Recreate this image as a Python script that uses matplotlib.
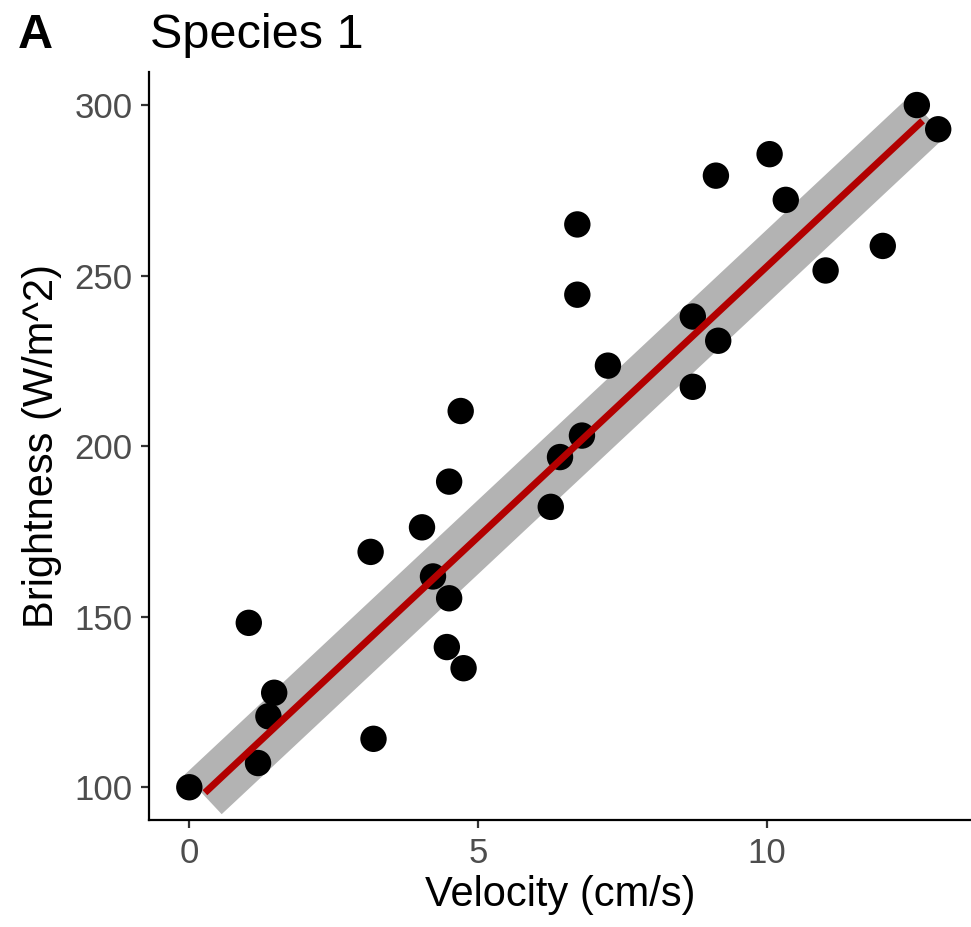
import matplotlib
matplotlib.use("Agg")
import matplotlib.pyplot as plt

plt.rcParams['font.family'] = ['Liberation Sans', 'DejaVu Sans']

# ---- data ----
velocity = [0.00, 1.03, 1.19, 1.37, 1.47, 3.14, 3.19, 4.03, 4.22, 4.50,
            4.50, 4.46, 4.70, 4.75, 6.26, 6.42, 6.80, 6.72, 6.72, 7.25,
            8.72, 8.72, 9.16, 9.12, 10.05, 10.33, 11.02, 12.01, 12.60, 12.97]
brightness = [100.0, 148.2, 107.1, 120.8, 127.7, 169.0, 114.2, 176.2, 161.8, 189.6,
              155.4, 141.1, 210.3, 134.9, 182.2, 196.8, 203.1, 244.4, 265.0, 223.6,
              238.0, 217.4, 230.9, 279.3, 285.6, 272.2, 251.5, 258.7, 300.0, 292.9]

fit_x = [0.27, 12.70]
fit_y = [98.4, 295.4]
band_x = [0.24, 12.78]
band_y = [97.9, 296.6]

x_ticks = [0, 5, 10]
y_ticks = [100, 150, 200, 250, 300]

# ---- figure ----
W, H = 971, 927
fig = plt.figure(figsize=(W / 100, H / 100), dpi=100)
ax = fig.add_axes([149.3 / W, 1 - 820 / H, 1 - 149.3 / W, (820 - 72.3) / H])

ax.plot(band_x, band_y, color='#B3B3B3', lw=39, solid_capstyle='butt', zorder=1)
ax.scatter(velocity, brightness, s=19 ** 2, color='black', edgecolors='none', zorder=2)
ax.plot(fit_x, fit_y, color='#B20000', lw=5, solid_capstyle='butt', zorder=3)

ax.set_xlim(-0.693, 13.538)
ax.set_ylim(90.4, 309.6)
ax.set_xticks(x_ticks)
ax.set_yticks(y_ticks)

for side in ['top', 'right']:
    ax.spines[side].set_visible(False)
for side in ['left', 'bottom']:
    ax.spines[side].set_linewidth(1.6)
    ax.spines[side].set_color('black')

ax.tick_params(axis='both', length=6, width=1.6, color='#333333',
               labelcolor='#4D4D4D', labelsize=25, pad=6)

ax.set_xlabel('Velocity (cm/s)', fontsize=30, color='black', labelpad=4)
ax.set_ylabel('Brightness (W/m^2)', fontsize=30, color='black', labelpad=9)

fig.text(150 / W, 1 - 48 / H, 'Species 1', fontsize=35, color='black',
         ha='left', va='baseline')
fig.text(18 / W, 1 - 48 / H, 'A', fontsize=35, fontweight='bold', color='black',
         ha='left', va='baseline')

fig.savefig('out.png', dpi=100)
